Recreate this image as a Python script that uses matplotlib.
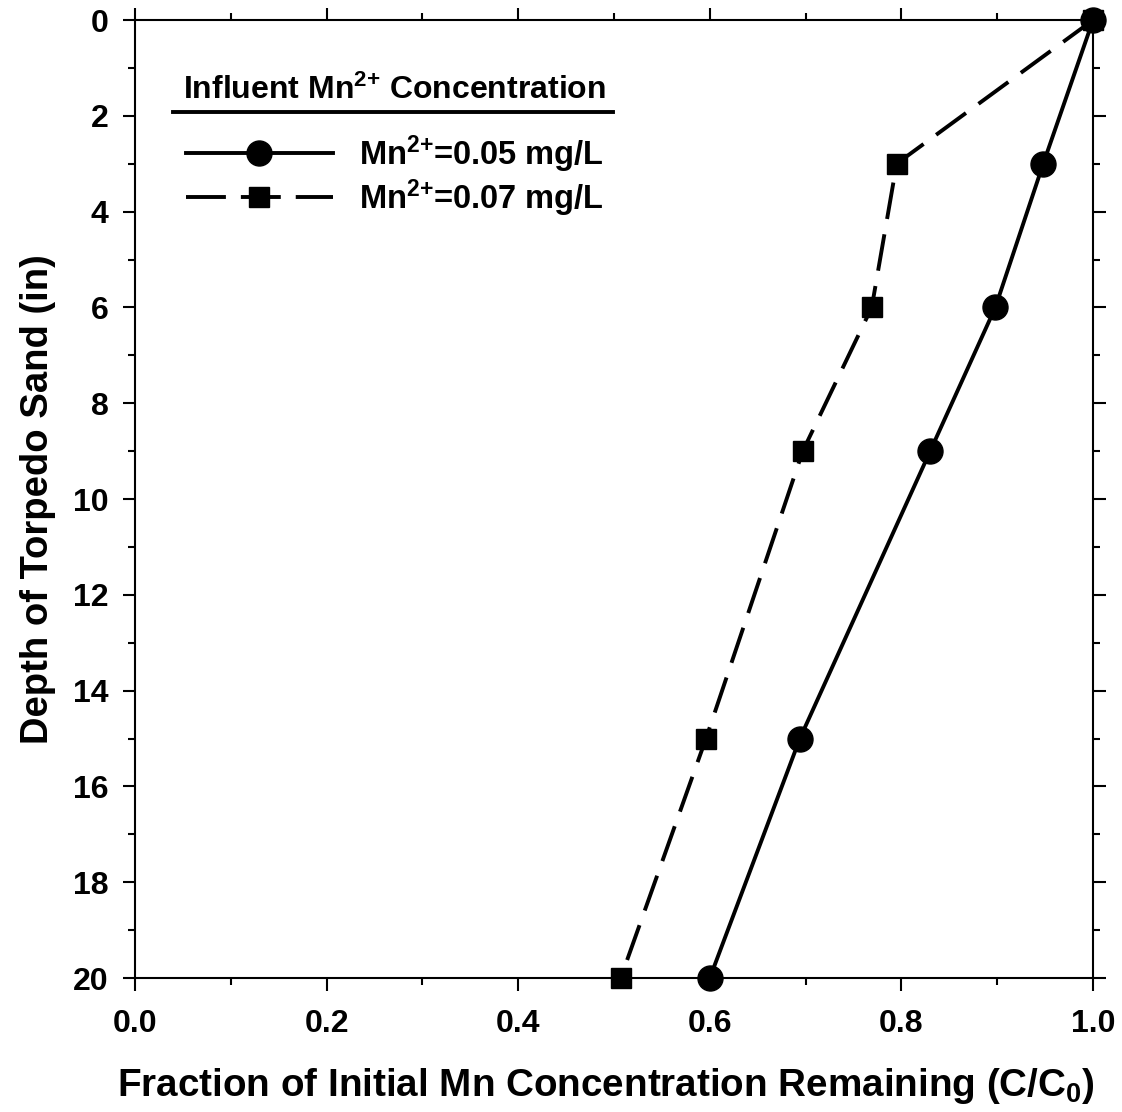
import matplotlib
matplotlib.use("Agg")
import matplotlib.pyplot as plt
from matplotlib.ticker import MultipleLocator, FormatStrFormatter
from matplotlib.lines import Line2D

plt.rcParams['font.family'] = ['Liberation Sans', 'DejaVu Sans']
plt.rcParams['font.weight'] = 'bold'
plt.rcParams['mathtext.fontset'] = 'custom'
plt.rcParams['mathtext.rm'] = 'Liberation Sans:bold'
plt.rcParams['mathtext.it'] = 'Liberation Sans:bold'
plt.rcParams['mathtext.bf'] = 'Liberation Sans:bold'

depth = [0, 3, 6, 9, 15, 20]
frac_005 = [1.0, 0.948, 0.898, 0.830, 0.694, 0.600]
frac_007 = [1.0, 0.795, 0.769, 0.697, 0.596, 0.507]
labels = [r'Mn$^{2{+}}$=0.05 mg/L', r'Mn$^{2{+}}$=0.07 mg/L']
legend_title = r'Influent Mn$^{2{+}}$ Concentration'

fig = plt.figure(figsize=(11.22, 11.12), dpi=100)
ax = fig.add_axes([0.1203, 0.1205, 0.8539, 0.8615])

LW = 2.8
dash = (0, (9.5, 4))
ax.plot(frac_005, depth, color='black', lw=LW, marker='o', ms=18, clip_on=False, zorder=3)
ax.plot(frac_007, depth, color='black', lw=LW, ls=dash, marker='s', ms=15, clip_on=False, zorder=3)

ax.set_xlim(0, 1.0)
ax.set_ylim(20, 0)
ax.xaxis.set_major_locator(MultipleLocator(0.2))
ax.xaxis.set_minor_locator(MultipleLocator(0.1))
ax.yaxis.set_major_locator(MultipleLocator(2))
ax.yaxis.set_minor_locator(MultipleLocator(1))
ax.tick_params(which='both', direction='out', top=True, right=True, width=1.5,
               labeltop=False, labelright=False, labelsize=23)
ax.tick_params(which='major', length=9)
ax.tick_params(axis='x', which='major', pad=13)
ax.tick_params(axis='y', which='major', pad=10)
ax.tick_params(which='minor', length=5)
ax.xaxis.set_major_formatter(FormatStrFormatter('%.1f'))
for s in ax.spines.values():
    s.set_linewidth(1.5)

ax.set_xlabel(r'Fraction of Initial Mn Concentration Remaining (C/C$_0$)', fontsize=27.8, fontweight='bold')
ax.xaxis.set_label_coords(0.4917, -0.092)
ax.set_ylabel('Depth of Torpedo Sand (in)', fontsize=27.5, labelpad=12, fontweight='bold')

ax.text(0.271, 0.927, legend_title, transform=ax.transAxes, ha='center', va='center', fontsize=23, fontweight='bold')
ax.add_line(Line2D([0.040, 0.499], [0.904, 0.904], transform=ax.transAxes, color='black', lw=LW))

handles = [Line2D([], [], color='black', lw=LW, marker='o', ms=18),
           Line2D([], [], color='black', lw=LW, ls=(0, (10.26, 3.85)), marker='s', ms=15)]
ax.legend(handles, labels, loc='upper left', bbox_to_anchor=(0.036, 0.899), frameon=False,
          fontsize=23.5, handlelength=4.5, handletextpad=0.8, labelspacing=0.08, borderpad=0)

fig.savefig('out.png', dpi=100)
